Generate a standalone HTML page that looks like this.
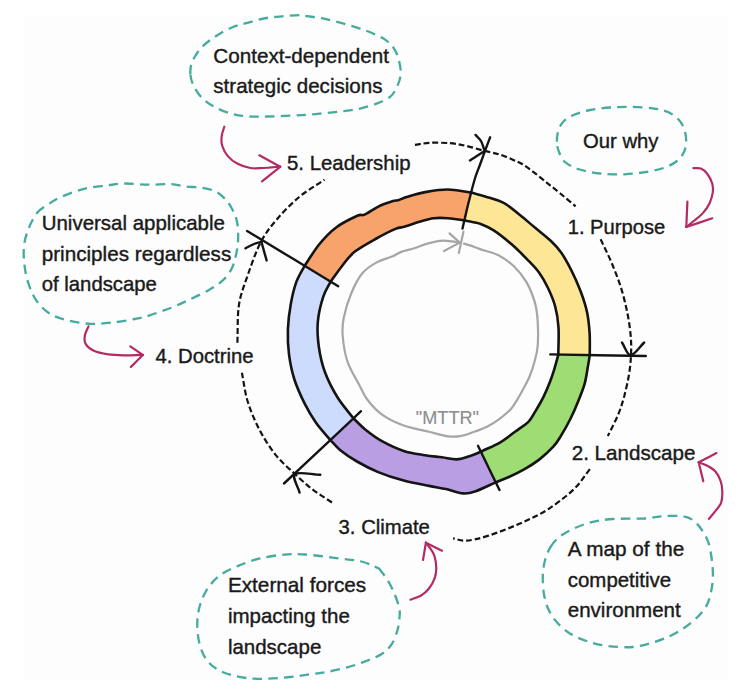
<!DOCTYPE html>
<html><head><meta charset="utf-8"><title>Cycle</title>
<style>
html,body{margin:0;padding:0;background:#ffffff;}
svg{display:block;}
text{font-family:"Liberation Sans",sans-serif;}
</style></head><body>
<svg width="754" height="694" viewBox="0 0 754 694">
<rect width="754" height="694" fill="#ffffff"/>
<rect x="24" y="16" width="704" height="664" fill="#fdfdfd"/>
<g id="ring">
<path d="M471,192.6 C476,194 480.4,194.9 485.9,196.7 C491.4,198.4 498.5,200.1 504.1,203.1 C509.7,206.1 514.4,210.7 519.6,214.8 C524.8,218.9 530,223.5 535.2,227.8 C540.4,232.1 546.4,236.6 550.7,240.7 C555,244.8 557.6,247.4 561.1,252.4 C564.6,257.4 568.2,264.1 571.5,270.6 C574.8,277.1 578,284.4 580.6,291.3 C583.2,298.2 585.5,305.1 587,312 C588.5,318.9 589.1,325.7 589.6,332.8 C590.1,339.9 589.7,347.5 589.8,354.8 L558.3,354.8 C558.4,345.7 559,335.7 558.5,327.6 C558,319.6 557,313.1 555.2,306.5 C553.5,299.9 550.7,293.7 548,288 C545.3,282.3 542.4,277.2 539,272.5 C535.6,267.8 531.9,264.2 527.4,259.6 C522.9,255 517.5,249.5 511.9,244.6 C506.3,239.7 498.9,233.8 493.7,230.4 C488.5,227 485.4,225.6 480.7,223.9 C475.9,222.2 470.4,221.6 465.2,220.5Z" fill="#fde796" stroke="#fde796" stroke-width="0.8"/>
<path d="M589.8,354.8 C589.2,358.7 588.8,361.8 587.9,366.6 C587,371.5 586.2,378.1 584.6,383.9 C583,389.7 580.5,395.4 578.2,401.2 C575.9,407 573.5,412.7 570.6,418.5 C567.7,424.3 563.8,431.2 560.9,435.9 C558,440.6 556.9,442.8 553.3,446.7 C549.7,450.6 544.1,455.8 539.2,459.6 C534.3,463.4 529.2,466.5 524.1,469.4 C519,472.3 513.8,474.8 508.9,477 C504,479.2 499.6,480.7 495,482.6 L481.4,451.5 C487.7,448.4 494.6,445.6 500.3,442.3 C506,439 510.7,434.9 515.4,431.5 C520.1,428.1 525.1,425 528.4,421.8 C531.6,418.6 532.4,416.2 534.9,412.1 C537.4,408 541,401.9 543.5,396.9 C546,391.8 548.2,386.5 550,381.8 C551.8,377.1 553,373.3 554.4,368.8 C555.8,364.3 557,359.5 558.3,354.8Z" fill="#9edc74" stroke="#9edc74" stroke-width="0.8"/>
<path d="M495,482.6 C488.6,485.5 481.1,489.4 475.8,491.2 C470.5,493 468.1,493.8 463.1,493.4 C458.2,493 451.8,490.4 446.1,489.1 C440.4,487.9 436.2,487.3 429.1,485.9 C422,484.5 412.2,482.9 403.7,480.6 C395.2,478.3 386,475.3 378.2,472.1 C370.4,468.9 363.4,465.2 357,461.5 C350.6,457.8 344.5,453.5 340,449.9 C335.5,446.2 333.3,443 330,439.6 L353.8,418.8 C357.7,422.4 360.7,425.9 365.5,429.7 C370.3,433.5 376,437.9 382.4,441.4 C388.8,444.9 396.6,448.6 403.7,450.9 C410.8,453.2 418.5,454.1 424.9,455.2 C431.3,456.3 436.6,456.6 441.9,457.3 C447.2,458 452.1,459.6 456.7,459.4 C461.3,459.2 465.3,457.5 469.4,456.2 C473.5,454.9 477.4,453.1 481.4,451.5Z" fill="#b99ee3" stroke="#b99ee3" stroke-width="0.8"/>
<path d="M330,439.6 C325.3,434 320.1,428.5 316,422.7 C311.9,416.9 308.8,411.9 305.2,404.7 C301.6,397.5 297.1,387.9 294.4,379.5 C291.7,371.1 290.1,362.8 289,354.4 C287.9,346 287.6,337.6 287.9,329.2 C288.2,320.8 289.4,311.8 290.8,304 C292.2,296.2 293.9,288.7 296.2,282.4 C298.5,276.1 301.7,271.5 304.5,266 L330.8,281.4 C328.3,286.5 325.4,290 323.2,296.8 C321,303.6 318.5,313.6 317.8,322 C317.1,330.4 317.7,338.8 318.9,347.2 C320.1,355.6 321.9,363.9 325,372.3 C328.1,380.7 332.8,389.8 337.6,397.5 C342.4,405.2 348.4,411.7 353.8,418.8Z" fill="#cddcfc" stroke="#cddcfc" stroke-width="0.8"/>
<path d="M304.5,266 C309.4,258.8 313.9,250.9 319.1,244.5 C324.3,238.1 329.4,232.5 335.8,227.7 C342.2,222.9 352.5,218 357.3,215.8 C362.1,213.6 360.9,216.2 364.5,214.6 C368.1,213 374,208.6 378.8,206.3 C383.6,204 389.9,202 393.1,201 C396.3,200 395.5,201 397.9,200.3 C400.3,199.6 402.6,198.1 407.4,196.7 C412.2,195.3 419.7,193.1 426.5,191.9 C433.3,190.7 440.6,189.4 448,189.5 C455.4,189.6 463.3,191.6 471,192.6 L465.2,220.5 C459.5,219.7 453.2,218.6 448,218.2 C442.8,217.8 438.5,217.6 433.7,218.2 C428.9,218.8 424.2,220.4 419.4,221.8 C414.6,223.2 409,225.4 405,226.6 C401,227.8 400.3,226.9 395.5,228.9 C390.7,230.9 383.2,234.7 376.4,238.5 C369.6,242.3 360.5,247.2 354.9,251.6 C349.3,256 347,259.7 343,264.7 C339,269.7 334.9,275.8 330.8,281.4Z" fill="#f9a36c" stroke="#f9a36c" stroke-width="0.8"/>
</g>
<g fill="none" stroke="#141414" stroke-width="2.6" stroke-linecap="round" stroke-linejoin="round">
<path d="M471,192.6 C476,194 480.4,194.9 485.9,196.7 C491.4,198.4 498.5,200.1 504.1,203.1 C509.7,206.1 514.4,210.7 519.6,214.8 C524.8,218.9 530,223.5 535.2,227.8 C540.4,232.1 546.4,236.6 550.7,240.7 C555,244.8 557.6,247.4 561.1,252.4 C564.6,257.4 568.2,264.1 571.5,270.6 C574.8,277.1 578,284.4 580.6,291.3 C583.2,298.2 585.5,305.1 587,312 C588.5,318.9 589.1,325.7 589.6,332.8 C590.1,339.9 589.7,347.5 589.8,354.8"/>
<path d="M589.8,354.8 C589.2,358.7 588.8,361.8 587.9,366.6 C587,371.5 586.2,378.1 584.6,383.9 C583,389.7 580.5,395.4 578.2,401.2 C575.9,407 573.5,412.7 570.6,418.5 C567.7,424.3 563.8,431.2 560.9,435.9 C558,440.6 556.9,442.8 553.3,446.7 C549.7,450.6 544.1,455.8 539.2,459.6 C534.3,463.4 529.2,466.5 524.1,469.4 C519,472.3 513.8,474.8 508.9,477 C504,479.2 499.6,480.7 495,482.6"/>
<path d="M495,482.6 C488.6,485.5 481.1,489.4 475.8,491.2 C470.5,493 468.1,493.8 463.1,493.4 C458.2,493 451.8,490.4 446.1,489.1 C440.4,487.9 436.2,487.3 429.1,485.9 C422,484.5 412.2,482.9 403.7,480.6 C395.2,478.3 386,475.3 378.2,472.1 C370.4,468.9 363.4,465.2 357,461.5 C350.6,457.8 344.5,453.5 340,449.9 C335.5,446.2 333.3,443 330,439.6"/>
<path d="M330,439.6 C325.3,434 320.1,428.5 316,422.7 C311.9,416.9 308.8,411.9 305.2,404.7 C301.6,397.5 297.1,387.9 294.4,379.5 C291.7,371.1 290.1,362.8 289,354.4 C287.9,346 287.6,337.6 287.9,329.2 C288.2,320.8 289.4,311.8 290.8,304 C292.2,296.2 293.9,288.7 296.2,282.4 C298.5,276.1 301.7,271.5 304.5,266"/>
<path d="M304.5,266 C309.4,258.8 313.9,250.9 319.1,244.5 C324.3,238.1 329.4,232.5 335.8,227.7 C342.2,222.9 352.5,218 357.3,215.8 C362.1,213.6 360.9,216.2 364.5,214.6 C368.1,213 374,208.6 378.8,206.3 C383.6,204 389.9,202 393.1,201 C396.3,200 395.5,201 397.9,200.3 C400.3,199.6 402.6,198.1 407.4,196.7 C412.2,195.3 419.7,193.1 426.5,191.9 C433.3,190.7 440.6,189.4 448,189.5 C455.4,189.6 463.3,191.6 471,192.6"/>
<path d="M465.2,220.5 C470.4,221.6 475.9,222.2 480.7,223.9 C485.4,225.6 488.5,227 493.7,230.4 C498.9,233.8 506.3,239.7 511.9,244.6 C517.5,249.5 522.9,255 527.4,259.6 C531.9,264.2 535.6,267.8 539,272.5 C542.4,277.2 545.3,282.3 548,288 C550.7,293.7 553.5,299.9 555.2,306.5 C557,313.1 558,319.6 558.5,327.6 C559,335.7 558.4,345.7 558.3,354.8"/>
<path d="M558.3,354.8 C557,359.5 555.8,364.3 554.4,368.8 C553,373.3 551.8,377.1 550,381.8 C548.2,386.5 546,391.8 543.5,396.9 C541,401.9 537.4,408 534.9,412.1 C532.4,416.2 531.6,418.6 528.4,421.8 C525.1,425 520.1,428.1 515.4,431.5 C510.7,434.9 506,439 500.3,442.3 C494.6,445.6 487.7,448.4 481.4,451.5"/>
<path d="M481.4,451.5 C477.4,453.1 473.5,454.9 469.4,456.2 C465.3,457.5 461.3,459.2 456.7,459.4 C452.1,459.6 447.2,458 441.9,457.3 C436.6,456.6 431.3,456.3 424.9,455.2 C418.5,454.1 410.8,453.2 403.7,450.9 C396.6,448.6 388.8,444.9 382.4,441.4 C376,437.9 370.3,433.5 365.5,429.7 C360.7,425.9 357.7,422.4 353.8,418.8"/>
<path d="M353.8,418.8 C348.4,411.7 342.4,405.2 337.6,397.5 C332.8,389.8 328.1,380.7 325,372.3 C321.9,363.9 320.1,355.6 318.9,347.2 C317.7,338.8 317.1,330.4 317.8,322 C318.5,313.6 321,303.6 323.2,296.8 C325.4,290 328.3,286.5 330.8,281.4"/>
<path d="M330.8,281.4 C334.9,275.8 339,269.7 343,264.7 C347,259.7 349.3,256 354.9,251.6 C360.5,247.2 369.6,242.3 376.4,238.5 C383.2,234.7 390.7,230.9 395.5,228.9 C400.3,226.9 401,227.8 405,226.6 C409,225.4 414.6,223.2 419.4,221.8 C424.2,220.4 428.9,218.8 433.7,218.2 C438.5,217.6 442.8,217.8 448,218.2 C453.2,218.6 459.5,219.7 465.2,220.5"/>
</g>
<g fill="none" stroke="#a6a6a6" stroke-width="2.2" stroke-linecap="round" stroke-linejoin="round">
<path d="M464,243.6 C466,244.2 467.3,244.5 470,245.4 C472.7,246.3 475.3,247.5 480,249.1 C484.7,250.7 492.4,252.2 498,255 C503.6,257.9 509.1,261.7 513.9,266.2 C518.6,270.7 523.1,276.3 526.5,282.1 C529.9,287.9 532.6,294.8 534.5,301.1 C536.4,307.4 537.1,312.6 537.6,320.1 C538.1,327.6 538.2,339 537.7,345.9 C537.2,352.8 535.8,356.7 534.5,361.7 C533.2,366.7 531.6,371.5 529.8,376 C527.9,380.5 525.5,384.7 523.4,388.7 C521.3,392.7 519.2,396.4 517.1,399.8 C515,403.2 513.6,406.1 510.7,409.3 C507.8,412.5 503.6,415.9 499.6,418.8 C495.7,421.7 491.5,424.4 487,426.7 C482.5,428.9 477.2,430.7 472.7,432.3 C468.2,433.9 464.1,435.5 460,436.2 C455.9,436.9 453.1,437 448,436.3 C442.9,435.6 436.5,433.6 429.1,431.8 C421.7,430 411.5,428.3 403.7,425.5 C395.9,422.7 388.4,419.1 382.4,414.9 C376.4,410.6 371.6,405.2 367.6,400 C363.6,394.8 361.9,389.9 358.5,383.5 C355.1,377.1 350,369.2 347.4,361.3 C344.8,353.4 343.3,343.2 342.7,336 C342.1,328.8 342.3,325.1 343.7,318 C345.1,310.9 348,301.1 351.1,293.7 C354.2,286.2 358,278.6 362.3,273.3 C366.6,268 372.2,264.9 377.1,262.1 C382.1,259.3 388,258.3 392,256.6 C396,254.9 397.6,253.3 401.3,251.9 C405,250.5 410,249.6 414.3,248.2 C418.6,246.8 423,244.8 427.3,243.6 C431.6,242.4 436.3,241.2 440.3,240.8 C444.3,240.4 448.1,241 451.4,241.3 C454.6,241.6 457,242.2 459.8,242.6"/>
<path d="M449.5,233.4 L459.8,242.6 L444,251"/>
<path d="M463.5,231.5 L458.8,252.9"/>
</g>
<g fill="none" stroke="#141414" stroke-width="2.4" stroke-linecap="round" stroke-linejoin="round">
<path d="M462.5,228.5 C463.9,222.3 465.4,215.8 466.8,209.8 C468.2,203.8 469.7,198.1 471.1,192.6 C472.5,187.1 474,181.5 475.4,177 C476.8,172.5 478.1,169.8 479.7,165.5 C481.3,161.2 483.2,155.8 484.9,151.1 C486.6,146.4 488.4,141.9 490.1,137.3"/>
<path d="M550.3,354.4 C582.1,354.9 614,355.5 645.8,356"/>
<path d="M478,445.8 C485.2,460.5 492.3,475.3 499.5,490"/>
<path d="M361,411.2 C350.9,420.7 343.4,427.8 330.6,439.8 C317.8,451.9 299.5,468.9 284,483.5"/>
<path d="M247.1,231 C277.5,249.4 307.8,267.8 338.2,286.2"/>
<path d="M475.5,134.9 C477.3,136.9 479.5,138.3 481,141 C482.5,143.7 483.4,147.6 484.6,150.9"/>
<path d="M469.9,160.4 C474.8,157.2 479.7,154.1 484.6,150.9"/>
<path d="M622,342.5 C624.9,346.7 627,355.2 630.7,355.2 C634.4,355.2 639.7,346.7 644.2,342.5"/>
<path d="M320.3,474.8 C311.9,474.6 298.4,471.2 295,474.2 C291.6,477.2 298.1,486.5 299.6,492.6"/>
<path d="M245.4,248.3 C248.3,246.9 251.3,245.1 254,244 C256.7,242.9 258.9,242.5 261.4,241.8"/>
<path d="M266.6,260.4 C264.9,254.2 263.1,248 261.4,241.8"/>
</g>
<g fill="none" stroke="#141414" stroke-width="2.2" stroke-dasharray="5.9 2.9">
<path d="M414.9,144.9 C419.9,144.2 424.1,143.1 430,142.8 C435.9,142.5 443.9,142.7 450,143.2 C456.1,143.7 460.5,144.6 466.3,145.9 C472.1,147.2 479,149.5 484.6,150.9 C490.2,152.3 495.2,153.1 500,154.6 C504.8,156.1 509.5,158.3 513.3,159.9 C517,161.5 519.2,162.2 522.5,164.2 C525.8,166.2 529.2,168.8 533.2,171.8 C537.2,174.8 542,178.9 546.4,182.4 C550.8,185.9 554.8,189 559.7,193 C564.6,197 570.3,201.9 575.6,206.3"/>
<path d="M600.6,239.3 C604.3,247.2 608.3,254.8 611.7,263 C615.1,271.2 618.6,279.9 621.2,288.4 C623.8,296.8 625.9,305.8 627.5,313.7 C629.1,321.6 630.1,329 630.7,335.9 C631.3,342.8 631.3,348.7 631,355 C630.7,361.3 630.2,367.1 629.1,373.9 C628,380.7 626.1,389.1 624.3,396 C622.4,402.9 620.8,408.3 618,415 C615.2,421.7 611.2,429 607.8,436"/>
<path d="M589.9,469.1 C584.5,475.9 580.8,482.6 573.7,489.4 C566.6,496.2 556.5,503.9 547.4,509.7 C538.2,515.5 528.8,519.6 518.8,524 C508.8,528.4 496.4,533.1 487.7,535.9 C478.9,538.7 472.1,540.3 466.3,540.7 C460.5,541.1 457.5,539.1 453.1,538.3"/>
<path d="M331.9,502.5 C325.4,498.1 318.6,494.1 312.3,489.2 C306,484.3 300,478.8 293.8,473 C287.6,467.2 281.2,461.9 275.4,454.6 C269.6,447.3 263.8,438.1 259.2,429.2 C254.6,420.3 250.6,410.9 247.7,401.5 C244.8,392.1 243.8,382.3 241.9,372.7"/>
<path d="M237.4,342.7 C237.9,330 237.2,316.3 239,304.7 C240.8,293.1 244.8,283.6 248.5,273 C252.2,262.4 256.4,250.4 261.2,241.4 C265.9,232.4 270.7,226.6 277,219.2 C283.3,211.8 291.3,203.6 299.2,197 C307.1,190.4 316.1,185.4 324.5,179.6"/>
</g>
<g fill="none" stroke="#45ab9d" stroke-width="2.3" stroke-dasharray="9.5 6.2" stroke-linecap="butt">
<path d="M190.4,74.2 C190.1,70.2 190.4,66.4 192.1,62.1 C193.8,57.8 197.1,52.4 200.8,48.2 C204.6,44 209.4,40.5 214.6,37 C219.8,33.5 226.1,29.9 231.9,27.5 C237.7,25.1 243.4,23.9 249.2,22.3 C255,20.7 260.7,19 266.5,18 C272.3,17 278.2,16.7 283.8,16.2 C289.4,15.7 296.1,15.2 300,15.2 C303.9,15.2 303.2,15.6 307.3,16.2 C311.4,16.8 318.8,17.6 324.6,18.8 C330.4,20 336.1,21.6 341.9,23.2 C347.7,24.8 354,26.6 359.2,28.3 C364.4,30 368.7,31.6 373,33.5 C377.3,35.4 381.6,37.1 385.1,39.6 C388.6,42.1 391.5,44.8 393.8,48.2 C396.1,51.7 397.8,56 398.9,60.3 C400,64.6 401,69.9 400.7,74.2 C400.4,78.5 398.9,82.6 397.2,86.3 C395.5,90 393.8,93.7 390.3,96.6 C386.9,99.5 381.7,101.6 376.5,103.6 C371.3,105.6 365,107.5 359.2,108.8 C353.4,110.1 347.7,110.6 341.9,111.3 C336.1,112 330.4,112.5 324.6,113.1 C318.8,113.7 313.1,114.4 307.3,114.8 C301.5,115.2 296.8,115.4 290,115.7 C283.2,116 273.3,116.4 266.5,116.5 C259.7,116.6 255,116.9 249.2,116.5 C243.4,116.1 237.7,115.5 231.9,113.9 C226.1,112.3 219.5,109.6 214.6,107 C209.7,104.4 206,101.9 202.5,98.4 C199,95 195.8,90.3 193.8,86.3 C191.8,82.3 190.7,78.2 190.4,74.2Z"/>
<path d="M36.9,213.1 C40,209.2 43.2,207.7 47.3,205 C51.3,202.3 55.1,199.6 61.2,196.9 C67.4,194.2 76.5,190.7 84.2,188.8 C91.9,186.9 100.5,186.3 107.3,185.4 C114.1,184.5 118.2,183.6 125,183.5 C131.8,183.4 140.4,184.6 148.1,184.7 C155.8,184.8 165,183.9 171.2,184.2 C177.3,184.5 180,185.9 185,186.5 C190,187.1 196.2,186.9 201.2,187.7 C206.2,188.5 211.2,189.5 215,191.2 C218.8,192.9 221.5,195.4 224.2,198.1 C226.9,200.8 229.1,203.5 231.2,207.3 C233.3,211.2 235.8,215.8 236.9,221.2 C238.1,226.6 238.3,233.8 238.1,239.6 C237.9,245.4 237,250.8 235.8,255.8 C234.7,260.8 233.5,265.4 231.2,269.6 C228.9,273.8 225.8,277.7 221.9,281.2 C218.1,284.7 213.5,287.3 208.1,290.4 C202.7,293.5 195.8,296.7 189.6,299.6 C183.4,302.5 178.1,305 171.2,307.7 C164.3,310.4 154.1,313.9 148.1,315.8 C142.1,317.7 140.7,317.9 135,319 C129.3,320.1 121.5,321.5 114.2,322.3 C106.9,323.1 98.9,324.2 91.2,323.9 C83.5,323.6 75,322.1 68.1,320.4 C61.2,318.7 55,317 49.6,313.5 C44.2,310 39.4,305 35.8,299.6 C32.1,294.2 29.6,287.4 27.7,281.2 C25.8,275 24.8,268.9 24.2,262.7 C23.6,256.5 23.4,250 24.2,244.2 C25,238.4 26.7,233.3 28.8,228.1 C30.9,222.9 33.8,216.9 36.9,213.1Z"/>
<path d="M556.9,141.8 C556.8,138.1 557.3,133.5 558.5,130 C559.7,126.5 561.3,123.6 564,121 C566.7,118.4 570.5,116.3 574.8,114.5 C579.1,112.7 584.1,111.2 590,110 C595.9,108.8 603.3,108 610,107.5 C616.7,107 622.9,106.7 630,106.8 C637.1,106.9 646.1,107.4 652.4,108.3 C658.7,109.2 663.6,110 668,112 C672.4,114 676.2,117 679,120 C681.8,123 683.3,126.4 684.5,130 C685.7,133.6 686.3,138.1 686.2,141.8 C686.1,145.5 685.5,148.8 684,152 C682.5,155.2 680.2,158.4 677,161 C673.8,163.6 669.8,165.7 665,167.5 C660.2,169.3 655.1,170.5 648.4,171.6 C641.7,172.7 632.7,174 624.6,174.3 C616.5,174.6 607.8,174.4 600,173.5 C592.2,172.6 583.8,170.9 578,169 C572.2,167.1 568.2,164.8 565,162 C561.8,159.2 560.4,155.4 559,152 C557.6,148.6 557,145.5 556.9,141.8Z"/>
<path d="M550.6,546.9 C553,543 555.8,539.8 559.5,536.8 C563.2,533.8 567.7,531.4 572.9,529 C578.1,526.6 584.1,524 590.8,522.3 C597.5,520.6 604.1,519.6 613.1,519 C622.1,518.4 636.6,519 645,518.5 C653.4,518 656.9,516.6 663.2,516.2 C669.5,515.8 677.7,515.5 682.7,516.2 C687.8,516.9 690.3,518.1 693.5,520.5 C696.7,522.9 699.6,526.5 702.1,530.3 C704.6,534.1 707,538.2 708.6,543.2 C710.2,548.2 711.2,554.7 711.9,560.5 C712.6,566.3 713.1,572.4 712.9,577.8 C712.7,583.2 711.9,588.2 710.8,592.9 C709.7,597.6 708.6,601.9 706.4,605.9 C704.2,609.9 701.4,613.1 697.8,616.7 C694.2,620.3 689.5,624.2 684.8,627.5 C680.1,630.8 675.1,633.7 669.7,636.2 C664.3,638.7 658.5,640.8 652.4,642.6 C646.3,644.4 640.3,646.4 633,647 C625.7,647.6 616,647 608.6,646.1 C601.2,645.2 594.8,643.7 588.5,641.7 C582.2,639.7 575.9,637.1 570.7,633.9 C565.5,630.7 561,626.8 557.3,622.7 C553.6,618.6 550.6,614.1 548.4,609.3 C546.2,604.5 544.8,599.3 543.9,593.7 C543,588.1 542.6,581.5 542.8,575.9 C543,570.3 543.7,565 545,560.2 C546.3,555.4 548.2,550.8 550.6,546.9Z"/>
<path d="M378.8,568.3 C381.7,572.2 384.8,575.6 387.5,580 C390.2,584.4 392.9,589.9 394.8,594.6 C396.8,599.3 398.4,604.4 399.2,608 C400,611.6 399.9,612.5 399.6,616 C399.4,619.5 399,624.6 397.7,629.2 C396.4,633.8 394.6,639.7 391.9,643.8 C389.2,647.9 386.1,651.1 381.7,654 C377.3,656.9 371.2,659.1 365.6,661.3 C360,663.5 354.2,665.4 348.1,667.1 C342,668.8 335.3,670.4 329.2,671.5 C323.1,672.6 318.2,673.1 311.7,674 C305.2,674.9 298.4,676.2 290,677 C281.6,677.8 269.8,678.8 261.1,678.8 C252.5,678.8 245.1,678.1 238.1,676.7 C231.1,675.3 224.5,673.2 219.3,670.4 C214.1,667.6 210,664.5 206.7,660 C203.4,655.5 201,649.6 199.4,643.3 C197.8,637 197.1,629 197.3,622.4 C197.5,615.8 198.6,609.4 200.5,603.5 C202.4,597.6 205.3,591.7 208.8,586.8 C212.3,581.9 216.5,577.8 221.4,574.3 C226.3,570.8 231.8,568.5 238.1,565.9 C244.4,563.3 251.3,560.5 259,558.6 C266.7,556.7 276.4,555.3 284.1,554.6 C291.8,553.9 296.3,553.9 305,554.5 C313.7,555.1 327.1,556.9 336.5,558.1 C345.9,559.3 354.2,559.8 361.3,561.5 C368.4,563.2 373,566 378.8,568.3"/>
</g>
<g fill="none" stroke="#b42b63" stroke-width="2.2" stroke-linecap="round" stroke-linejoin="round">
<path d="M224.3,126.7 C223.4,129.9 222,133 221.7,136.2 C221.3,139.4 221.1,142.4 222.2,145.8 C223.2,149.2 225.4,153.4 228,156.4 C230.6,159.4 233.9,161.9 237.6,163.8 C241.3,165.7 246.1,167.3 250.3,168 C254.5,168.7 258,168.2 263,168 C268,167.8 274.5,167.1 280.2,166.6"/>
<path d="M259.3,155.3 C266.3,159.1 273.2,163 280.2,166.8"/>
<path d="M262,181.3 C268.1,176.5 274.1,171.6 280.2,166.8"/>
<path d="M88.5,326.3 C87.3,329.3 85.4,332.4 84.9,335.3 C84.4,338.2 84,341 85.5,343.6 C87,346.2 90.1,349 93.9,350.8 C97.7,352.6 103.2,353.6 108.2,354.4 C113.2,355.1 117.9,355.2 123.7,355.3 C129.5,355.4 136.4,355.1 142.8,355"/>
<path d="M130.3,346.3 C134.5,349.2 138.6,352.1 142.8,355"/>
<path d="M130.9,366.9 C134.9,362.9 138.8,359 142.8,355"/>
<path d="M693.4,168.1 C695.9,168.3 698.6,167.6 700.9,168.6 C703.2,169.6 705.5,171.5 707.4,174 C709.3,176.5 711.4,180.7 712.3,183.8 C713.2,186.9 713.2,189.2 712.8,192.4 C712.3,195.6 711.2,199.8 709.6,203.2 C708,206.6 705.6,210 703.1,212.9 C700.6,215.8 697.2,218.2 694.4,220.5 C691.6,222.8 689,224.8 686.3,227"/>
<path d="M687.4,201.6 C687,210.1 686.7,218.5 686.3,227"/>
<path d="M712.3,218.3 C703.6,221.2 695,224.1 686.3,227"/>
<path d="M709,518.8 C711.5,515.7 714.5,512.3 716.5,509.6 C718.5,506.9 720.2,505.8 721.2,502.7 C722.2,499.6 722.4,494.8 722.3,491.2 C722.2,487.6 721.8,484.1 720.6,480.8 C719.5,477.5 717.6,474 715.4,471.5 C713.2,469 710.1,467.3 707.3,465.8 C704.5,464.3 701.6,463.5 698.7,462.3"/>
<path d="M716.5,453.1 C710.6,456.2 704.6,459.2 698.7,462.3"/>
<path d="M703.3,481.3 C701.8,475 700.2,468.6 698.7,462.3"/>
<path d="M410.4,599.7 C413.8,598.4 417.6,597.5 420.7,595.7 C423.8,593.9 426.5,591.7 428.8,588.8 C431.1,585.9 433.4,581.9 434.6,578.4 C435.9,574.9 436.3,571.6 436.3,568 C436.3,564.4 435.5,559.6 434.6,556.5 C433.7,553.4 432.6,551.9 431.1,549.6 C429.7,547.3 427.6,545 425.9,542.7"/>
<path d="M423,560 C424,554.2 424.9,548.5 425.9,542.7"/>
<path d="M442,550.7 C436.6,548 431.3,545.4 425.9,542.7"/>
</g>
<g fill="#1a1a1a" stroke="#1a1a1a" stroke-width="0.4" font-size="20.7">
<text x="213.3" y="62.6" textLength="175.6" lengthAdjust="spacingAndGlyphs">Context-dependent</text>
<text x="213.3" y="92.8" textLength="169.2" lengthAdjust="spacingAndGlyphs">strategic decisions</text>
<text x="287" y="169.8" textLength="123.5" lengthAdjust="spacingAndGlyphs">5. Leadership</text>
<text x="41.7" y="229.9" textLength="183.2" lengthAdjust="spacingAndGlyphs">Universal applicable</text>
<text x="41.7" y="260.5" textLength="189.6" lengthAdjust="spacingAndGlyphs">principles regardless</text>
<text x="41.7" y="290.6" textLength="115.2" lengthAdjust="spacingAndGlyphs">of landscape</text>
<text x="155.4" y="362.8" textLength="98.2" lengthAdjust="spacingAndGlyphs">4. Doctrine</text>
<text x="583" y="148.4" textLength="75.5" lengthAdjust="spacingAndGlyphs">Our why</text>
<text x="567.7" y="233.6" textLength="97.5" lengthAdjust="spacingAndGlyphs">1. Purpose</text>
<text x="571.7" y="460.3" textLength="123.7" lengthAdjust="spacingAndGlyphs">2. Landscape</text>
<text x="338.6" y="534.4" textLength="91.3" lengthAdjust="spacingAndGlyphs">3. Climate</text>
<text x="567.8" y="555.8" textLength="116.4" lengthAdjust="spacingAndGlyphs">A map of the</text>
<text x="567.8" y="586.5" textLength="103.3" lengthAdjust="spacingAndGlyphs">competitive</text>
<text x="567.8" y="617.4" textLength="112.9" lengthAdjust="spacingAndGlyphs">environment</text>
<text x="227.9" y="592" textLength="138.3" lengthAdjust="spacingAndGlyphs">External forces</text>
<text x="227.9" y="623.2" textLength="122" lengthAdjust="spacingAndGlyphs">impacting the</text>
<text x="227.9" y="654.2" textLength="93.4" lengthAdjust="spacingAndGlyphs">landscape</text>
</g>
<text x="415.8" y="423.7" font-size="18.8" fill="#8d8d8d" stroke="#8d8d8d" stroke-width="0.15" textLength="63.2" lengthAdjust="spacingAndGlyphs">"MTTR"</text>
</svg>
</body></html>
